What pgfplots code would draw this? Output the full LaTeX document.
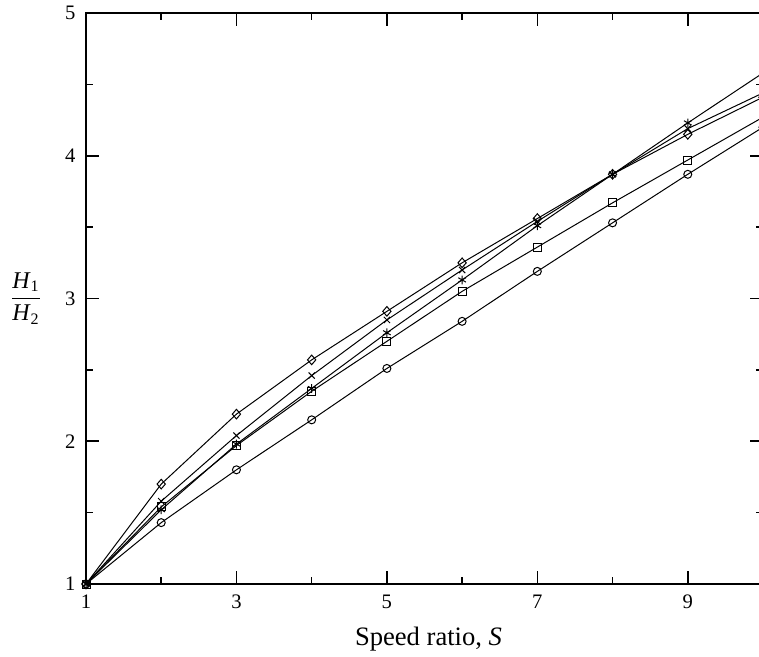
\documentclass[border=0pt]{standalone}
\usepackage{fontspec}
\setmainfont{Liberation Serif}
\usepackage{pgfplots}
\pgfplotsset{compat=1.18}
\begin{document}
\begin{tikzpicture}
\begin{axis}[
  scale only axis, width=338.5pt, height=285.5pt,
  xmin=1, xmax=10, ymin=1, ymax=5,
  xtick={1,3,5,7,9}, ytick={1,2,3,4,5},
  minor x tick num=1, minor y tick num=1,
  xtick pos=both, ytick pos=both,
  xticklabel pos=lower, yticklabel pos=left,
  tick align=inside, major tick length=6.5pt, minor tick length=3.5pt,
  every tick/.style={black, line width=0.8pt},
  axis line style={line width=0.9pt},
  tick label style={font=\fontsize{10.3}{12}\selectfont},
  /pgf/number format/assume math mode=true,
  xticklabel style={yshift=-2pt},
  yticklabel style={xshift=-1.7pt},
  every axis x label/.style={at={(axis description cs:0.5,0)}, anchor=base, yshift=-30.5pt, xshift=2pt, font=\fontsize{13.3}{15}\selectfont},
  every axis y label/.style={at={(axis description cs:0,0.5)}, anchor=center, xshift=-30pt, font=\fontsize{12}{14}\selectfont},
  xlabel={Speed ratio, \textit{S}},
  ylabel={$\displaystyle\frac{\mbox{\textit{H}\textsubscript{1}}}{\mbox{\textit{H}\textsubscript{2}}}$},
  every axis plot/.append style={black, line width=0.5pt},
]
\addplot[mark=o, mark size=2pt] coordinates {(1,1)(2,1.43)(3,1.80)(4,2.15)(5,2.51)(6,2.84)(7,3.19)(8,3.53)(9,3.87)(10,4.20)};
\addplot[mark=square, mark size=2pt] coordinates {(1,1)(2,1.54)(3,1.97)(4,2.35)(5,2.70)(6,3.05)(7,3.36)(8,3.67)(9,3.97)(10,4.27)};
\addplot[mark=asterisk, mark size=2.2pt] coordinates {(1,1)(2,1.52)(3,1.98)(4,2.37)(5,2.76)(6,3.13)(7,3.51)(8,3.87)(9,4.23)(10,4.58)};
\addplot[mark=x, mark size=2.2pt] coordinates {(1,1)(2,1.58)(3,2.04)(4,2.46)(5,2.85)(6,3.20)(7,3.54)(8,3.87)(9,4.19)(10,4.44)};
\addplot[mark=diamond, mark size=2.4pt, mark options={xscale=1.15}] coordinates {(1,1)(2,1.70)(3,2.19)(4,2.57)(5,2.91)(6,3.25)(7,3.56)(8,3.87)(9,4.15)(10,4.41)};
\end{axis}
\pgfresetboundingbox
\path ([xshift=-43pt,yshift=-36pt]current axis.south west) rectangle ([xshift=-2pt,yshift=6.5pt]current axis.north east);
\end{tikzpicture}
\end{document}
